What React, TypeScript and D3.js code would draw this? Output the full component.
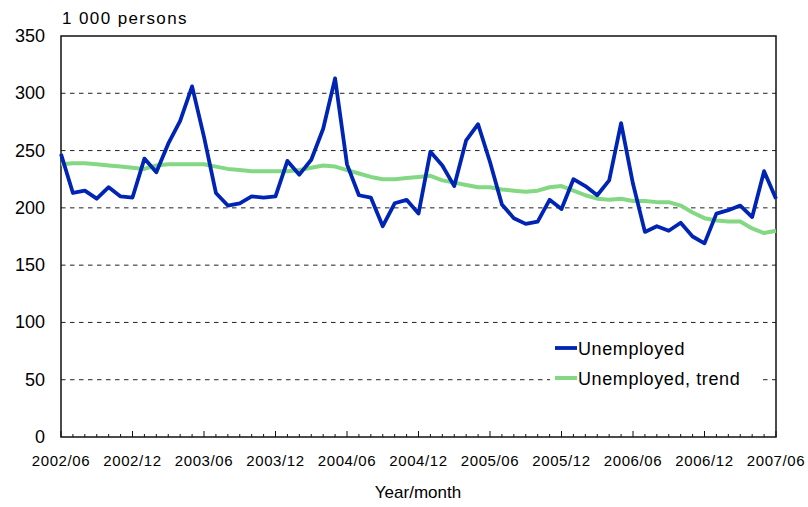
import React from "react";
import * as d3 from "d3";

// monthly values, 2002/06 .. 2007/06 (61 months), 1 000 persons
const unemployed = [
  247, 213, 215, 208, 218, 210, 209, 243, 231, 256, 276, 306,
  262, 213, 202, 204, 210, 209, 210, 241, 229, 242, 269, 313,
  238, 211, 209, 184, 204, 207, 195, 249, 237, 219, 259, 273,
  240, 203, 191, 186, 188, 207, 199, 225, 219, 211, 224, 274,
  221, 179, 184, 180, 187, 175, 169, 195, 198, 202, 192, 232,
  208,
];

const trend = [
  238, 239, 239, 238, 237, 236, 235, 234, 237, 238, 238, 238,
  238, 236, 234, 233, 232, 232, 232, 232, 233, 235, 237, 236,
  233, 230, 227, 225, 225, 226, 227, 228, 224, 222, 220, 218,
  218, 216, 215, 214, 215, 218, 219, 215, 211, 208, 207, 208,
  206, 206, 205, 205, 202, 196, 191, 189, 188, 188, 182, 178,
  180,
];

const xLabels = [
  "2002/06", "2002/12", "2003/06", "2003/12", "2004/06", "2004/12",
  "2005/06", "2005/12", "2006/06", "2006/12", "2007/06",
];

const yTicks = [0, 50, 100, 150, 200, 250, 300, 350];

const seriesNames = ["Unemployed", "Unemployed, trend"];

const W = 808;
const H = 507;
const margin = { left: 61, right: 32, top: 36, bottom: 70 };
const font = "'Liberation Sans', Arial, sans-serif";

export default function App() {
  const x = d3
    .scaleLinear()
    .domain([0, unemployed.length - 1])
    .range([margin.left, W - margin.right]);
  const y = d3
    .scaleLinear()
    .domain([0, 350])
    .range([H - margin.bottom, margin.top]);

  const line = d3
    .line<number>()
    .x((_, i) => x(i))
    .y((d) => y(d));

  const x0 = margin.left;
  const x1 = W - margin.right;
  const yb = y(0);
  const yt = y(350);
  const months = d3.range(unemployed.length);

  const blue = "#0024b4";
  const green = "#84d884";

  return (
    <svg
      width={W}
      height={H}
      style={{ position: "absolute", left: 0, top: 0, background: "#fff" }}
      fontFamily={font}
    >
      {/* gridlines */}
      {yTicks
        .filter((t) => t > 0 && t < 350)
        .map((t) => (
          <line
            key={t}
            x1={x0}
            x2={x1}
            y1={y(t)}
            y2={y(t)}
            stroke="#222"
            strokeWidth={1}
            strokeDasharray="4.5,4.5"
          />
        ))}

      {/* frame */}
      <rect
        x={x0}
        y={yt}
        width={x1 - x0}
        height={yb - yt}
        fill="none"
        stroke="#111"
        strokeWidth={1.5}
      />

      {/* month ticks */}
      {months.map((m) => (
        <line
          key={m}
          x1={x(m)}
          x2={x(m)}
          y1={yb}
          y2={yb - (m % 6 === 0 ? 6 : 3)}
          stroke="#111"
          strokeWidth={1}
        />
      ))}

      {/* y labels */}
      {yTicks.map((t) => (
        <text
          key={t}
          x={45}
          y={y(t) + 6}
          textAnchor="end"
          fontSize={18}
          fill="#000"
        >
          {t}
        </text>
      ))}

      {/* x labels */}
      {xLabels.map((l, i) => (
        <text
          key={l}
          x={x(i * 6)}
          y={yb + 29}
          textAnchor="middle"
          fontSize={15}
          letterSpacing={0.6}
          fill="#000"
        >
          {l}
        </text>
      ))}

      <text x={62} y={24} fontSize={17} letterSpacing={1.4} fill="#000">
        1 000 persons
      </text>
      <text x={418} y={498} textAnchor="middle" fontSize={17} fill="#000">
        Year/month
      </text>

      {/* series */}
      <path
        d={line(trend) ?? ""}
        fill="none"
        stroke={green}
        strokeWidth={4}
        strokeLinejoin="round"
      />
      <path
        d={line(unemployed) ?? ""}
        fill="none"
        stroke={blue}
        strokeWidth={3.8}
        strokeLinejoin="round"
      />

      {/* legend */}
      <rect x={550} y={334} width={212} height={58} fill="#fff" />
      {seriesNames.map((n, i) => (
        <g key={n} transform={`translate(555, ${348 + i * 30})`}>
          <line
            x1={0}
            x2={22}
            y1={0}
            y2={0}
            stroke={i === 0 ? blue : green}
            strokeWidth={i === 0 ? 3.8 : 4}
          />
          <text x={23} y={7} fontSize={18} letterSpacing={0.6} fill="#000">
            {n}
          </text>
        </g>
      ))}
    </svg>
  );
}
